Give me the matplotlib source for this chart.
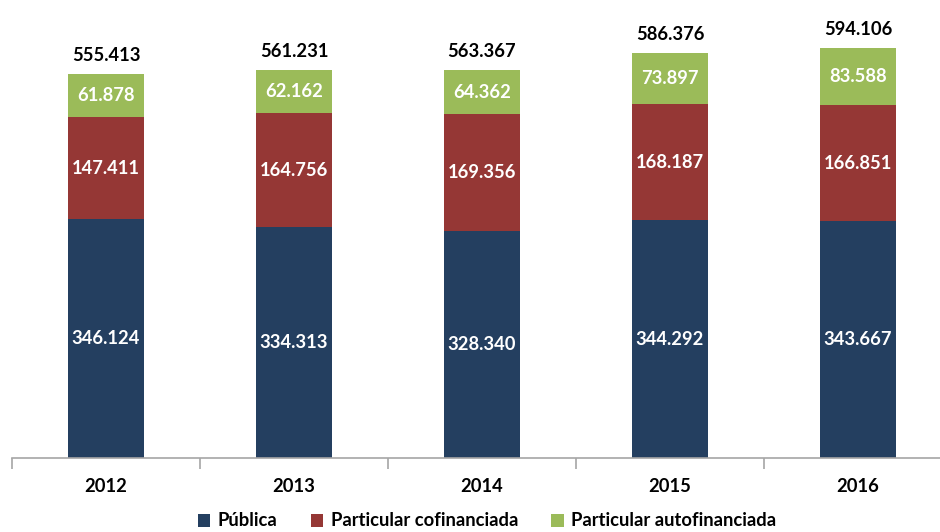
import matplotlib
matplotlib.use("Agg")
import matplotlib.pyplot as plt
import numpy as np

years = ["2012", "2013", "2014", "2015", "2016"]
publica = [346.124, 334.313, 328.340, 344.292, 343.667]
cofin = [147.411, 164.756, 169.356, 168.187, 166.851]
autofin = [61.878, 62.162, 64.362, 73.897, 83.588]
totals = [555.413, 561.231, 563.367, 586.376, 594.106]
series_names = ["Pública", "Particular cofinanciada", "Particular autofinanciada"]
colors = ["#243F60", "#953735", "#9BBB59"]

def fmt(v):
    return f"{v:.3f}"

plt.rcParams['font.family'] = ['Lato', 'DejaVu Sans']
FS = 13.2

fig = plt.figure(figsize=(9.4, 5.32), dpi=100)
ax = fig.add_axes([12/940, (532-458)/532, 940/940, (458-14)/532])

x = np.arange(len(years))
w = 0.4
data = [publica, cofin, autofin]
bottoms = np.zeros(len(years))
handles = []
for vals, c, name in zip(data, colors, series_names):
    b = ax.bar(x, vals, w, bottom=bottoms, color=c, label=name, edgecolor='none')
    handles.append(b)
    for xi, v, bt in zip(x, vals, bottoms):
        ax.text(xi, bt + v/2, fmt(v), ha='center', va='center', color='white',
                fontsize=FS, fontweight='bold')
    bottoms = bottoms + np.array(vals)

for xi, t, bt in zip(x, totals, bottoms):
    ax.text(xi, bt + 27, fmt(t), ha='center', va='center', color='black',
            fontsize=FS, fontweight='bold')

ax.set_xlim(-0.5, 4.5)
ax.set_ylim(0, 643)
for s in ['top', 'right', 'left']:
    ax.spines[s].set_visible(False)
ax.spines['bottom'].set_color('#A6A6A6')
ax.spines['bottom'].set_linewidth(1.2)
ax.set_yticks([])
ax.set_xticks(np.arange(-0.5, 5.0, 1.0))
ax.set_xticklabels([])
ax.tick_params(axis='x', direction='out', length=8, color='#A6A6A6', width=1.2)
for xi, y in zip(x, years):
    ax.text(xi, -0.065, y, transform=ax.get_xaxis_transform(), ha='center', va='center',
            fontsize=FS, fontweight='bold')

fig.legend(handles=handles, labels=series_names, loc='center', bbox_to_anchor=(487/940, 1 - 521/532),
           ncol=3, frameon=False, handlelength=0.7, handleheight=0.7,
           handletextpad=0.4, columnspacing=1.8, prop={'weight': 'bold', 'size': FS})

fig.savefig("out.png", dpi=100)
